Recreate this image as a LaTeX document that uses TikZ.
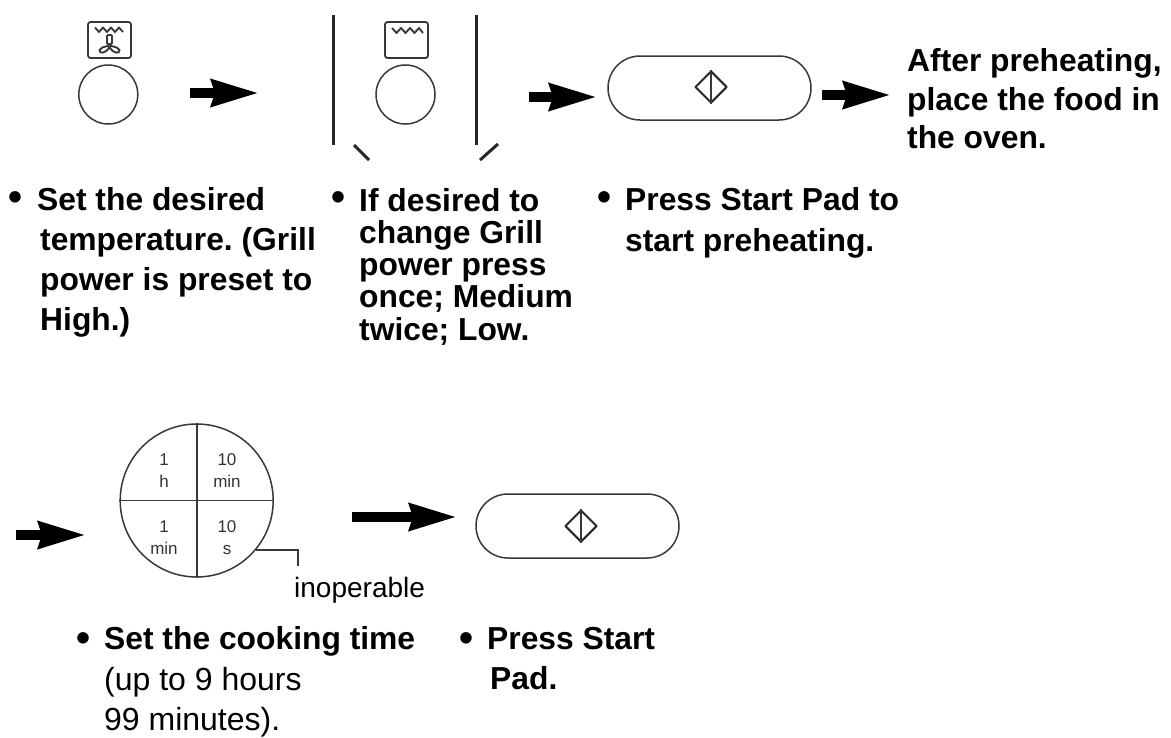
\documentclass[tikz,border=0pt]{standalone}
\usepackage{fontspec}
\setmainfont{Liberation Sans}
\usetikzlibrary{arrows.meta,shapes.geometric,shapes.misc}
\definecolor{ink}{gray}{0.22}
\frenchspacing
\newcommand{\bfs}[1]{\fontsize{31.8}{#1}\selectfont\bfseries}
\tikzset{
  x=1pt,y=-1pt,
  pointer/.style={line width=10pt,draw=black,shorten >=-2pt,-{Stealth[length=47pt,width=26pt,inset=3pt]}},
  iconbox/.style={draw=ink,line width=1.8pt,rounded corners=2.5pt,minimum width=43pt,minimum height=36pt,inner sep=0pt},
  dial/.style={draw=ink,line width=1.5pt,circle,minimum size=59pt,inner sep=0pt},
  pill/.style={draw=ink,line width=1.5pt,rounded rectangle,minimum width=203pt,minimum height=64pt,inner sep=0pt},
  gem/.style={draw=ink!70!black,line width=2pt,line join=round,diamond,minimum size=32pt,inner sep=0pt},
  bar/.style={line width=3pt,draw=black!85},
  rule/.style={line width=1.6pt,draw=ink},
  wave/.style={line width=1.9pt,draw=ink,line join=round},
  boldtext/.style={font=\bfs{32.2},align=left,inner sep=0pt,anchor=north west},
  spot/.style={font=\fontsize{40}{40}\selectfont\bfseries,inner sep=0pt,anchor=base},
  plain/.style={font=\fontsize{32}{40}\selectfont,align=left,inner sep=0pt,anchor=north west},
  keycap/.style={font=\fontsize{17}{22}\selectfont,align=center,inner sep=0pt,text=black!80},
}
\begin{document}
\begin{tikzpicture}
\useasboundingbox (0,0) rectangle (1171,737);
% first step
\node[iconbox] (boxa) at (109.5,40) {};
\draw[wave] (95,27.5) -- (99,32) -- (103,27.5) -- (107,32) -- (111,27.5) -- (115,32) -- (119,27.5) -- (123,32);
\draw[wave,rounded corners=1pt] (107,35) rectangle (112,44);
\draw[wave] (109.5,44) .. controls (108,48) and (103,45) .. (99.5,50) .. controls (98.5,54) and (106,54) .. (109.5,47) .. controls (113,54) and (120.5,54) .. (119.5,50) .. controls (116,45) and (111,48) .. (109.5,44);
\node[dial] (dial1) at (108.3,94.5) {};
\coordinate (a1s) at (190,93); \coordinate (a1e) at (257,93);
\draw[pointer] (a1s) -- (a1e);
% second step
\coordinate (la) at (333.5,15); \coordinate (lb) at (333.5,145);
\coordinate (ra) at (476.5,15); \coordinate (rb) at (476.5,145);
\draw[bar] (la) -- (lb);
\draw[bar] (ra) -- (rb);
\coordinate (ta) at (354,145); \coordinate (tb) at (369,160);
\coordinate (tc) at (498,144); \coordinate (td) at (480,160);
\draw[bar] (ta) -- (tb);
\draw[bar] (tc) -- (td);
\node[iconbox] (boxb) at (406.5,40) {};
\draw[wave] (392,28) -- (396.5,33) -- (401,28) -- (405.5,33) -- (410,28) -- (414.5,33) -- (419,28) -- (423,33);
\node[dial] (dial2) at (405.5,94.5) {};
\coordinate (a2s) at (529,97); \coordinate (a2e) at (595,97);
\draw[pointer] (a2s) -- (a2e);
% start pad
\node[pill] (pad1) at (709.5,88) {};
\node[gem] (gem1) at (711,87) {};
\draw[rule] (gem1.north) -- (gem1.south);
\coordinate (a3s) at (822,95); \coordinate (a3e) at (889,95);
\draw[pointer] (a3s) -- (a3e);
\node[boldtext,font=\bfs{38.8}] (after) at (907,48) {After preheating,\\place the food in\\the oven.};
% captions
\node[spot] (b1) at (16,210.3) {•};
\node[boldtext,font=\bfs{39.8}] (t1) at (37,187.5) {Set the desired\\\hspace*{3pt}temperature. (Grill\\\hspace*{3pt}power is preset to\\\hspace*{3pt}High.)};
\node[spot] (b2) at (338,210.3) {•};
\node[boldtext] (t2) at (359,188) {If desired to\\change Grill\\power press\\once; Medium\\twice; Low.};
\node[spot] (b3) at (604,210.3) {•};
\node[boldtext,font=\bfs{41}] (t3) at (625,187) {Press Start Pad to\\start preheating.};
% lower row
\coordinate (a4s) at (16,535); \coordinate (a4e) at (84,535);
\draw[pointer] (a4s) -- (a4e);
\node[dial,minimum size=153pt] (clock) at (196.7,500.5) {};
\draw[rule] (clock.north) -- (clock.south);
\draw[rule] (clock.west) -- (clock.east);
\node[keycap] (k1) at (164,471) {1\\h};
\node[keycap] (k2) at (227,471) {10\\min};
\node[keycap] (k3) at (164,538) {1\\min};
\node[keycap] (k4) at (227,538) {10\\s};
\coordinate (lead) at (298,566);
\draw[rule] (clock.-40) -| (lead);
\node[font=\fontsize{28}{30}\selectfont,inner sep=0pt,anchor=base west] (inop) at (294,597) {inoperable};
\coordinate (a5s) at (352,517); \coordinate (a5e) at (455,517);
\draw[pointer] (a5s) -- (a5e);
\node[pill] (pad2) at (577.5,526) {};
\node[gem] (gem2) at (581,526) {};
\draw[rule] (gem2.north) -- (gem2.south);
\node[spot] (b4) at (84,651.3) {•};
\node[boldtext] (t4) at (104,626) {Set the cooking time};
\node[plain] (t5) at (104,667.5) {(up to 9 hours\\99 minutes).};
\node[spot] (b5) at (466,651.3) {•};
\node[boldtext,font=\bfs{40}] (t6) at (487,627) {Press Start\\\hspace*{3pt}Pad.};
\end{tikzpicture}
\end{document}
